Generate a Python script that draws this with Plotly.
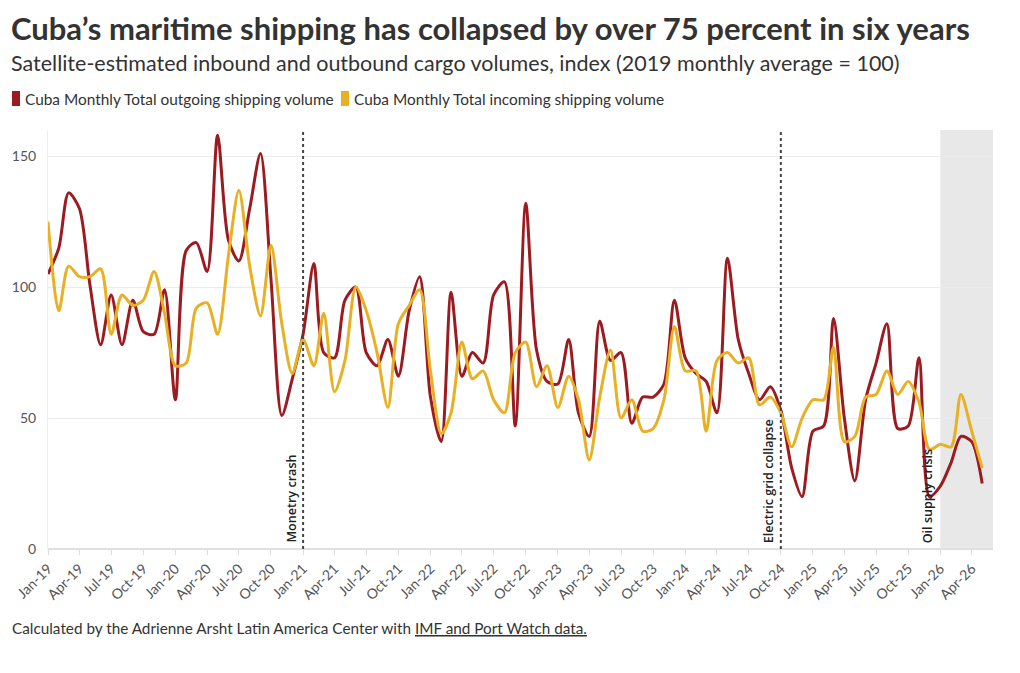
import pandas as pd
import plotly.graph_objects as go

# ---- data (index, 2019 monthly average = 100), monthly Jan-2019 .. May-2026
months = pd.date_range("2019-01-01", periods=89, freq="MS")
outgoing = [105, 115, 136, 130, 101, 78, 97, 78, 95, 83, 82, 99,
            57, 114, 117, 106, 158, 118, 110, 130, 151, 103, 51, 65,
            82, 109, 75, 73, 95, 100, 75, 70, 80, 66, 91, 104,
            58, 41, 98, 66, 75, 71, 97, 102, 47, 132, 76, 64,
            63, 80, 52, 43, 87, 72, 75, 48, 58, 58, 63, 95,
            73, 67, 64, 52, 111, 80, 67, 57, 62, 53, 31, 20,
            45, 47, 88, 50, 26, 57, 71, 86, 46, 47, 73, 20,
            24, 33, 43, 41, 25]
incoming = [125, 91, 108, 104, 104, 107, 82, 97, 93, 95, 106, 90,
            70, 71, 92, 94, 82, 112, 137, 108, 89, 116, 86, 67,
            80, 70, 90, 60, 72, 100, 91, 75, 54, 86, 93, 99,
            68, 44, 52, 79, 65, 68, 57, 52, 75, 79, 62, 70,
            54, 66, 57, 34, 58, 76, 50, 57, 45, 46, 57, 85,
            68, 68, 45, 72, 75, 71, 73, 55, 58, 52, 39, 50,
            57, 57, 77, 41, 43, 58, 59, 68, 59, 64, 56, 38,
            40, 39, 59, 45, 31]
events = [("2021-01-01", "Monetry crash"), ("2024-10-01", "Electric grid collapse"),
          ("2026-01-01", "Oil supply crisis")]
event_lines = ["2021-01-01", "2024-10-01"]
shade_start = "2026-01-01"
series_names = ["Cuba Monthly Total outgoing shipping volume",
                "Cuba Monthly Total incoming shipping volume"]

RED = "#9b1b20"
YEL = "#e8b024"
W, H = 1020, 673
L, R, T, B = 48, 27, 130, 124
PW, PH = W - L - R, H - T - B


def px(x):
    return (x - L) / PW


def py(y):
    return (H - B - y) / PH


fig = go.Figure()
fig.add_trace(go.Scatter(x=months, y=outgoing, mode="lines", name=series_names[0],
                         line=dict(color=RED, width=3, shape="spline", smoothing=0.8),
                         showlegend=False))
fig.add_trace(go.Scatter(x=months, y=incoming, mode="lines", name=series_names[1],
                         line=dict(color=YEL, width=3, shape="spline", smoothing=0.8),
                         showlegend=False))

shapes = [dict(type="rect", xref="x", yref="paper", x0=shade_start, x1="2026-06-01",
               y0=0, y1=1, fillcolor="#e8e8e8", line=dict(width=0), layer="below")]
for d in event_lines:
    shapes.append(dict(type="line", xref="x", yref="paper", x0=d, x1=d, y0=0, y1=1,
                       line=dict(color="#444", width=2, dash="dot")))
# legend swatches
shapes.append(dict(type="rect", xref="paper", yref="paper", x0=px(12), x1=px(20),
                   y0=py(106), y1=py(91), fillcolor=RED, line=dict(width=0)))
shapes.append(dict(type="rect", xref="paper", yref="paper", x0=px(341), x1=px(349),
                   y0=py(106), y1=py(91), fillcolor=YEL, line=dict(width=0)))

ann = []
ann.append(dict(text="<b>Cuba’s maritime shipping has collapsed by over 75 percent in six years</b>",
                xref="paper", yref="paper", x=px(9), y=py(28), xanchor="left", yanchor="middle",
                showarrow=False, font=dict(family="Lato", size=31, color="#333")))
ann.append(dict(text="Satellite-estimated inbound and outbound cargo volumes, index (2019 monthly average = 100)",
                xref="paper", yref="paper", x=px(9), y=py(63), xanchor="left", yanchor="middle",
                showarrow=False, font=dict(family="Lato", size=21.5, color="#333")))
ann.append(dict(text=series_names[0], xref="paper", yref="paper", x=px(23), y=py(99),
                xanchor="left", yanchor="middle", showarrow=False,
                font=dict(family="Lato", size=15.4, color="#333")))
ann.append(dict(text=series_names[1], xref="paper", yref="paper", x=px(352), y=py(99),
                xanchor="left", yanchor="middle", showarrow=False,
                font=dict(family="Lato", size=15.4, color="#333")))
ann.append(dict(text="Calculated by the Adrienne Arsht Latin America Center with <u>IMF and Port Watch data.</u>",
                xref="paper", yref="paper", x=px(10), y=py(628), xanchor="left", yanchor="middle",
                showarrow=False, font=dict(family="Lato", size=15.3, color="#333")))
for d, label in events:
    ann.append(dict(text=label, xref="x", yref="y", x=d, y=0, xanchor="right", yanchor="bottom",
                    xshift=-2, yshift=4, textangle=-90, showarrow=False,
                    font=dict(family="Open Sans", size=12.6, color="#222", weight=600)))

fig.update_layout(
    width=W, height=H, margin=dict(l=L, r=R, t=T, b=B),
    paper_bgcolor="white", plot_bgcolor="white",
    shapes=shapes, annotations=ann,
    xaxis=dict(type="date", range=["2019-01-01", "2026-06-01"], tick0="2019-01-01", dtick="M3",
               tickformat="%b-%y", tickangle=-45, showgrid=False, ticks="outside", ticklen=5,
               tickcolor="#ddd", showline=False, zeroline=False,
               tickfont=dict(family="Lato", size=14, color="#555")),
    yaxis=dict(range=[0, 160], tickvals=[0, 50, 100, 150], showgrid=True, gridcolor="#ebebeb",
               gridwidth=1, zeroline=True, zerolinecolor="#e0e0e0", showline=True,
               linecolor="#eeeeee", ticks="", ticklabelstandoff=8,
               tickfont=dict(family="Lato", size=14, color="#555")),
    hovermode="x unified",
)
fig.write_html("out.html")
